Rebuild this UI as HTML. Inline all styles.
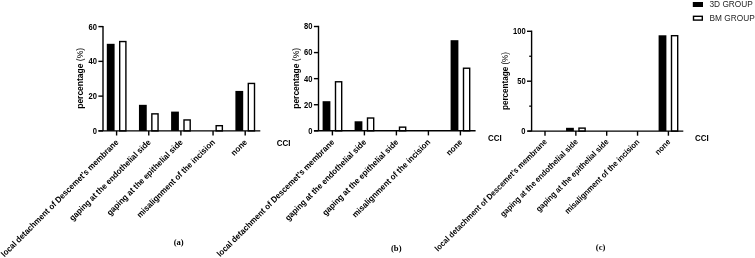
<!DOCTYPE html>
<html><head><meta charset="utf-8"><style>
html,body{margin:0;padding:0;background:#fff;}
body{width:755px;height:258px;overflow:hidden;}
svg{display:block;will-change:transform;}
text{font-family:"Liberation Sans",sans-serif;fill:#000;}
.tk{font-size:7.6px;font-weight:bold;}
.lb{font-size:7.9px;font-weight:bold;}
.cci{font-size:8.0px;font-weight:bold;}
.yt{font-size:8.5px;font-weight:bold;}
.cap{font-family:"Liberation Serif",serif;font-size:8.6px;font-weight:bold;}
.lg{font-size:8.3px;fill:#1e1e1e;}
</style></head><body>
<svg width="755" height="258" viewBox="0 0 755 258">
<rect width="755" height="258" fill="#fff"/>
<rect x="106.80" y="43.81" width="7.80" height="87.09" fill="#000"/>
<rect x="119.70" y="41.55" width="6.20" height="89.35" fill="#fff" stroke="#000" stroke-width="1.4"/>
<rect x="138.95" y="104.83" width="7.80" height="26.08" fill="#000"/>
<rect x="151.85" y="113.86" width="6.20" height="17.04" fill="#fff" stroke="#000" stroke-width="1.4"/>
<rect x="171.10" y="111.60" width="7.80" height="19.30" fill="#000"/>
<rect x="184.00" y="119.95" width="6.20" height="10.95" fill="#fff" stroke="#000" stroke-width="1.4"/>
<rect x="216.15" y="125.69" width="6.20" height="5.22" fill="#fff" stroke="#000" stroke-width="1.4"/>
<rect x="235.40" y="90.92" width="7.80" height="39.98" fill="#000"/>
<rect x="248.30" y="83.44" width="6.20" height="47.46" fill="#fff" stroke="#000" stroke-width="1.4"/>
<line x1="103.00" y1="25.90" x2="103.00" y2="130.90" stroke="#000" stroke-width="1.4"/>
<line x1="98.40" y1="130.90" x2="103.00" y2="130.90" stroke="#000" stroke-width="1.4"/>
<text transform="translate(97.00,133.80) scale(1,1.18)" text-anchor="end" class="tk">0</text>
<line x1="98.40" y1="96.13" x2="103.00" y2="96.13" stroke="#000" stroke-width="1.4"/>
<text transform="translate(97.00,99.03) scale(1,1.18)" text-anchor="end" class="tk">20</text>
<line x1="98.40" y1="61.37" x2="103.00" y2="61.37" stroke="#000" stroke-width="1.4"/>
<text transform="translate(97.00,64.27) scale(1,1.18)" text-anchor="end" class="tk">40</text>
<line x1="98.40" y1="26.60" x2="103.00" y2="26.60" stroke="#000" stroke-width="1.4"/>
<text transform="translate(97.00,29.50) scale(1,1.18)" text-anchor="end" class="tk">60</text>
<line x1="98.50" y1="130.90" x2="260.30" y2="130.90" stroke="#000" stroke-width="1.4"/>
<line x1="116.60" y1="130.90" x2="116.60" y2="135.50" stroke="#000" stroke-width="1.4"/>
<text transform="translate(119.10,142.80) rotate(-45) scale(1,1.08)" text-anchor="end" class="lb" style="font-size:7.9px">local detachment of Descemet’s membrane</text>
<line x1="148.75" y1="130.90" x2="148.75" y2="135.50" stroke="#000" stroke-width="1.4"/>
<text transform="translate(151.25,142.80) rotate(-45) scale(1,1.08)" text-anchor="end" class="lb" style="font-size:7.9px">gaping at the endothelial side</text>
<line x1="180.90" y1="130.90" x2="180.90" y2="135.50" stroke="#000" stroke-width="1.4"/>
<text transform="translate(183.40,142.80) rotate(-45) scale(1,1.08)" text-anchor="end" class="lb" style="font-size:7.9px">gaping at the epithelial side</text>
<line x1="213.05" y1="130.90" x2="213.05" y2="135.50" stroke="#000" stroke-width="1.4"/>
<text transform="translate(215.55,142.80) rotate(-45) scale(1,1.08)" text-anchor="end" class="lb" style="font-size:7.9px">misalignment of the incision</text>
<line x1="245.20" y1="130.90" x2="245.20" y2="135.50" stroke="#000" stroke-width="1.4"/>
<text transform="translate(247.70,142.80) rotate(-45) scale(1,1.08)" text-anchor="end" class="lb" style="font-size:7.9px">none</text>
<text transform="translate(276.70,145.60) scale(1,1.15)" class="cci">CCI</text>
<text transform="translate(82.80,78.40) rotate(-90) scale(1,1.08)" text-anchor="middle" class="yt" style="font-size:8.5px">percentage <tspan style="font-weight:normal">(%)</tspan></text>
<text x="173.70" y="245.00" class="cap">(a)</text>
<rect x="322.60" y="101.20" width="7.80" height="29.60" fill="#000"/>
<rect x="335.50" y="81.78" width="6.20" height="49.02" fill="#fff" stroke="#000" stroke-width="1.4"/>
<rect x="354.60" y="121.28" width="7.80" height="9.52" fill="#000"/>
<rect x="367.50" y="118.02" width="6.20" height="12.78" fill="#fff" stroke="#000" stroke-width="1.4"/>
<rect x="399.50" y="127.15" width="6.20" height="3.65" fill="#fff" stroke="#000" stroke-width="1.4"/>
<rect x="450.60" y="40.19" width="7.80" height="90.61" fill="#000"/>
<rect x="463.50" y="68.22" width="6.20" height="62.58" fill="#fff" stroke="#000" stroke-width="1.4"/>
<line x1="318.50" y1="25.80" x2="318.50" y2="130.80" stroke="#000" stroke-width="1.4"/>
<line x1="313.90" y1="130.80" x2="318.50" y2="130.80" stroke="#000" stroke-width="1.4"/>
<text transform="translate(312.50,133.70) scale(1,1.18)" text-anchor="end" class="tk">0</text>
<line x1="313.90" y1="104.73" x2="318.50" y2="104.73" stroke="#000" stroke-width="1.4"/>
<text transform="translate(312.50,107.63) scale(1,1.18)" text-anchor="end" class="tk">20</text>
<line x1="313.90" y1="78.65" x2="318.50" y2="78.65" stroke="#000" stroke-width="1.4"/>
<text transform="translate(312.50,81.55) scale(1,1.18)" text-anchor="end" class="tk">40</text>
<line x1="313.90" y1="52.58" x2="318.50" y2="52.58" stroke="#000" stroke-width="1.4"/>
<text transform="translate(312.50,55.48) scale(1,1.18)" text-anchor="end" class="tk">60</text>
<line x1="313.90" y1="26.50" x2="318.50" y2="26.50" stroke="#000" stroke-width="1.4"/>
<text transform="translate(312.50,29.40) scale(1,1.18)" text-anchor="end" class="tk">80</text>
<line x1="314.00" y1="130.80" x2="475.60" y2="130.80" stroke="#000" stroke-width="1.4"/>
<line x1="332.40" y1="130.80" x2="332.40" y2="135.40" stroke="#000" stroke-width="1.4"/>
<text transform="translate(334.90,142.70) rotate(-45) scale(1,1.08)" text-anchor="end" class="lb" style="font-size:7.9px">local detachment of Descemet’s membrane</text>
<line x1="364.40" y1="130.80" x2="364.40" y2="135.40" stroke="#000" stroke-width="1.4"/>
<text transform="translate(366.90,142.70) rotate(-45) scale(1,1.08)" text-anchor="end" class="lb" style="font-size:7.9px">gaping at the endothelial side</text>
<line x1="396.40" y1="130.80" x2="396.40" y2="135.40" stroke="#000" stroke-width="1.4"/>
<text transform="translate(398.90,142.70) rotate(-45) scale(1,1.08)" text-anchor="end" class="lb" style="font-size:7.9px">gaping at the epithelial side</text>
<line x1="428.40" y1="130.80" x2="428.40" y2="135.40" stroke="#000" stroke-width="1.4"/>
<text transform="translate(430.90,142.70) rotate(-45) scale(1,1.08)" text-anchor="end" class="lb" style="font-size:7.9px">misalignment of the incision</text>
<line x1="460.40" y1="130.80" x2="460.40" y2="135.40" stroke="#000" stroke-width="1.4"/>
<text transform="translate(462.90,142.70) rotate(-45) scale(1,1.08)" text-anchor="end" class="lb" style="font-size:7.9px">none</text>
<text transform="translate(488.00,141.20) scale(1,1.15)" class="cci">CCI</text>
<text transform="translate(298.50,78.40) rotate(-90) scale(1,1.08)" text-anchor="middle" class="yt" style="font-size:8.5px">percentage <tspan style="font-weight:normal">(%)</tspan></text>
<text x="391.00" y="250.50" class="cap">(b)</text>
<rect x="566.05" y="127.81" width="7.80" height="3.29" fill="#000"/>
<rect x="578.95" y="128.11" width="6.20" height="2.99" fill="#fff" stroke="#000" stroke-width="1.4"/>
<rect x="658.60" y="35.29" width="7.80" height="95.81" fill="#000"/>
<rect x="671.50" y="35.69" width="6.20" height="95.41" fill="#fff" stroke="#000" stroke-width="1.4"/>
<line x1="531.60" y1="30.60" x2="531.60" y2="131.10" stroke="#000" stroke-width="1.4"/>
<line x1="527.00" y1="131.10" x2="531.60" y2="131.10" stroke="#000" stroke-width="1.4"/>
<text transform="translate(525.60,134.00) scale(1,1.18)" text-anchor="end" class="tk">0</text>
<line x1="527.00" y1="81.20" x2="531.60" y2="81.20" stroke="#000" stroke-width="1.4"/>
<text transform="translate(525.60,84.10) scale(1,1.18)" text-anchor="end" class="tk">50</text>
<line x1="527.00" y1="31.30" x2="531.60" y2="31.30" stroke="#000" stroke-width="1.4"/>
<text transform="translate(525.60,34.20) scale(1,1.18)" text-anchor="end" class="tk">100</text>
<line x1="529.20" y1="106.15" x2="531.60" y2="106.15" stroke="#000" stroke-width="1.26"/>
<line x1="529.20" y1="56.25" x2="531.60" y2="56.25" stroke="#000" stroke-width="1.26"/>
<line x1="528.20" y1="131.10" x2="683.30" y2="131.10" stroke="#000" stroke-width="1.4"/>
<line x1="545.00" y1="131.10" x2="545.00" y2="135.70" stroke="#000" stroke-width="1.4"/>
<text transform="translate(547.50,142.40) rotate(-45) scale(1,1.08)" text-anchor="end" class="lb" style="font-size:7.55px">local detachment of Descemet’s membrane</text>
<line x1="575.85" y1="131.10" x2="575.85" y2="135.70" stroke="#000" stroke-width="1.4"/>
<text transform="translate(578.35,142.40) rotate(-45) scale(1,1.08)" text-anchor="end" class="lb" style="font-size:7.55px">gaping at the endothelial side</text>
<line x1="606.70" y1="131.10" x2="606.70" y2="135.70" stroke="#000" stroke-width="1.4"/>
<text transform="translate(609.20,142.40) rotate(-45) scale(1,1.08)" text-anchor="end" class="lb" style="font-size:7.55px">gaping at the epithelial side</text>
<line x1="637.55" y1="131.10" x2="637.55" y2="135.70" stroke="#000" stroke-width="1.4"/>
<text transform="translate(640.05,142.40) rotate(-45) scale(1,1.08)" text-anchor="end" class="lb" style="font-size:7.55px">misalignment of the incision</text>
<line x1="668.40" y1="131.10" x2="668.40" y2="135.70" stroke="#000" stroke-width="1.4"/>
<text transform="translate(670.90,142.40) rotate(-45) scale(1,1.08)" text-anchor="end" class="lb" style="font-size:7.55px">none</text>
<text transform="translate(695.00,141.10) scale(1,1.15)" class="cci">CCI</text>
<text transform="translate(508.00,81.00) rotate(-90) scale(1,1.08)" text-anchor="middle" class="yt" style="font-size:8.1px">percentage <tspan style="font-weight:normal">(%)</tspan></text>
<text x="595.80" y="249.50" class="cap">(c)</text>

<rect x="692.8" y="2.0" width="10.2" height="5.0" fill="#000"/>
<rect x="693.5" y="16.3" width="8.8" height="3.8" fill="#fff" stroke="#000" stroke-width="1.4"/>
<text x="709.5" y="7.2" class="lg">3D GROUP</text>
<text x="709.5" y="20.8" class="lg">BM GROUP</text>

</svg>
</body></html>
